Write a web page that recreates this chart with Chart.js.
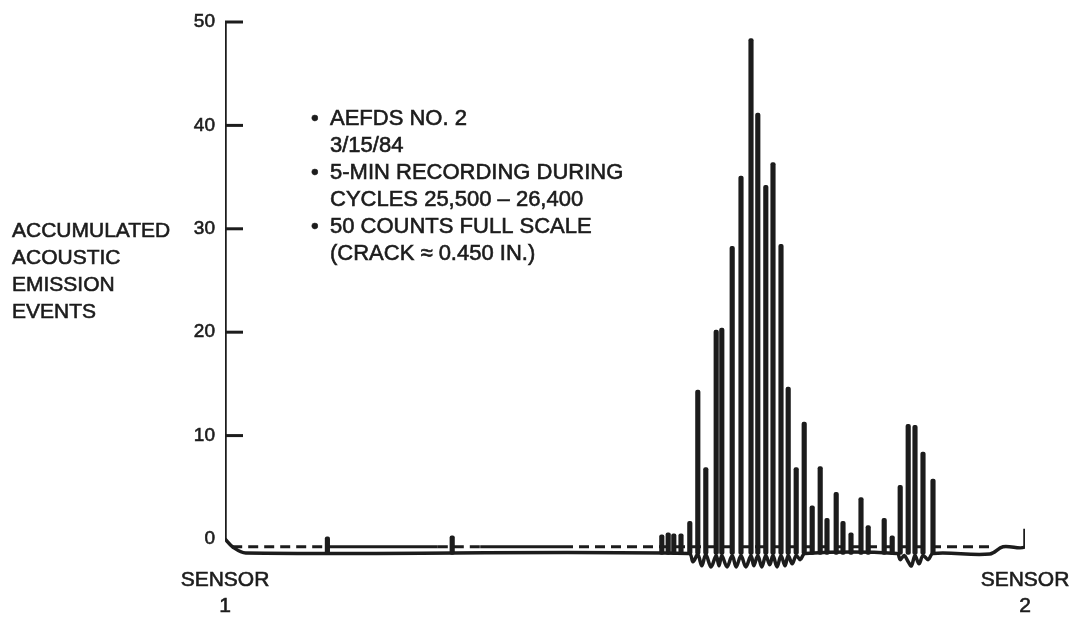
<!DOCTYPE html>
<html>
<head>
<meta charset="utf-8">
<script src="https://cdn.jsdelivr.net/npm/chart.js@4/dist/chart.umd.min.js"></script>
<style>
  body { margin: 0; background: #fff; }
  canvas { display: block; }
</style>
</head>
<body>
<canvas id="chart" width="1070" height="626"></canvas>
<script>
// position along the specimen, 0 = sensor 1, 100 = sensor 2
const xTicks = [0, 100];
const xTickLabels = [['SENSOR', '1'], ['SENSOR', '2']];
const yTicks = [0, 10, 20, 30, 40, 50];

// acoustic emission spikes (position, accumulated events)
const spikeX = [12.8, 28.4, 54.6, 55.4, 56.1, 57.0, 58.1, 59.1, 60.1, 61.4, 62.1, 63.4, 64.5, 65.75,
    66.6, 67.6, 68.5, 69.5, 70.4, 71.4, 72.4, 73.4, 74.4, 75.25, 76.4, 77.25, 78.25, 79.5, 80.4,
    82.4, 83.4, 84.4, 85.4, 86.25, 87.25, 88.5];
const spikeY = [0.2, 0.3, 0.4, 0.6, 0.5, 0.5, 1.7, 14.4, 6.9, 20.2, 20.4, 28.3, 35.1, 48.4,
    41.2, 34.2, 36.4, 28.5, 14.7, 6.9, 11.3, 3.2, 7.0, 2.0, 4.5, 1.7, 0.6, 4.0, 1.3,
    2.0, 0.3, 5.2, 11.1, 11.0, 8.4, 5.8];
const spikeBase = -1.5;

// dashed zero trace
const dashX = [0.9, 13, 26.6, 31.9, 42.25, 95.6];
const dashY = [-0.75, -0.75, -0.75, -0.75, -0.75, -0.75];
const solidSpans = [[13, 26.6], [31.9, 42.25]];

// lower solid trace with the loops under the spikes
const lowX = [0, 1.0, 2.6, 58.0, 58.5, 59.1, 59.6, 60.1, 60.75, 61.4, 61.75, 62.1, 62.75, 63.4, 63.9,
    64.5, 65.1, 65.75, 66.1, 66.6, 67.1, 67.6, 68.1, 68.5, 69.0, 69.5, 70.0, 70.4, 70.9, 71.4, 71.9,
    72.5, 84.0, 84.4, 84.9, 85.4, 85.8, 86.25, 86.75, 87.25, 87.9, 88.5, 95.6, 97.25, 100, 100];
const lowY = [0, -0.8, -1.35, -1.4, -2.2, -1.5, -2.6, -1.5, -2.7, -1.6, -2.6, -1.6, -2.7, -1.6, -2.7,
    -1.6, -2.7, -1.6, -2.6, -1.6, -2.7, -1.6, -2.5, -1.6, -2.7, -1.6, -2.6, -1.6, -2.4, -1.6, -2.0,
    -1.4, -1.4, -2.0, -1.6, -2.2, -2.6, -1.6, -2.4, -1.6, -2.0, -1.4, -1.45, -0.75, -0.75, 1.0];

const axisX = [0, 0];
const axisY = [0, 50];

const yTitle = ['ACCUMULATED', 'ACOUSTIC', 'EMISSION', 'EVENTS'];
const notes = [
    ['\u2022', 'AEFDS NO. 2'],
    ['', '3/15/84'],
    ['\u2022', '5-MIN RECORDING DURING'],
    ['', 'CYCLES 25,500 \u2013 26,400'],
    ['\u2022', '50 COUNTS FULL SCALE'],
    ['', '(CRACK \u2248 0.450 IN.)']
];

const INK = '#1c1c1c';
const FONT = '"Liberation Sans", Arial, Helvetica, sans-serif';

const toPoints = (xs, ys) => xs.map((x, i) => ({ x: x, y: ys[i] }));

// heavier print look for the hand-set labels
function inkText(c, text, x, y) {
    c.fillText(text, x, y);
    c.strokeText(text, x, y);
}

const decorPlugin = {
    id: 'decor',
    afterDatasetsDraw(chart) {
        const c = chart.ctx;
        const yScale = chart.scales.y;
        const x0 = chart.scales.x.getPixelForValue(0);
        c.save();
        // inside tick marks
        c.strokeStyle = INK;
        c.lineWidth = 3;
        yTicks.slice(1).forEach(v => {
            const py = yScale.getPixelForValue(v);
            c.beginPath();
            c.moveTo(x0, py);
            c.lineTo(x0 + 18, py);
            c.stroke();
        });
        // axis title
        c.fillStyle = INK;
        c.lineWidth = 0.6;
        c.textBaseline = 'middle';
        c.textAlign = 'left';
        c.font = '21px ' + FONT;
        yTitle.forEach((t, i) => inkText(c, t, 12, 231 + i * 27));
        // notes
        c.font = '22px ' + FONT;
        notes.forEach((n, i) => {
            const py = 119 + i * 27;
            if (n[0]) inkText(c, n[0], 311, py);
            inkText(c, n[1], 330, py);
        });
        c.restore();
    }
};

new Chart(document.getElementById('chart'), {
    data: {
        datasets: [
            {
                type: 'bar',
                data: spikeX.map((x, i) => ({ x: x, y: [spikeBase, spikeY[i]] })),
                backgroundColor: INK,
                barThickness: 4.5,
                borderRadius: 2,
                borderSkipped: false
            },
            {
                type: 'line',
                data: toPoints(dashX, dashY),
                borderColor: INK,
                borderWidth: 3,
                pointRadius: 0,
                segment: {
                    borderDash: ctx => solidSpans.some(s => ctx.p0.parsed.x >= s[0] && ctx.p1.parsed.x <= s[1]) ? [] : [10, 6]
                }
            },
            {
                type: 'line',
                data: toPoints(lowX, lowY),
                borderColor: INK,
                borderWidth: 3.5,
                tension: 0.35,
                pointRadius: 0
            },
            {
                type: 'line',
                data: toPoints(axisX, axisY),
                borderColor: INK,
                borderWidth: 3.5,
                pointRadius: 0
            }
        ]
    },
    options: {
        responsive: false,
        animation: false,
        layout: { padding: { left: 0, right: 45, top: 22, bottom: 0 } },
        plugins: { legend: { display: false }, tooltip: { enabled: false } },
        scales: {
            x: {
                type: 'linear',
                min: 0,
                max: 100,
                offset: false,
                grid: { display: false },
                border: { display: false },
                afterBuildTicks: s => { s.ticks = xTicks.map(v => ({ value: v })); },
                afterFit: s => { s.height = 56; s.paddingLeft = 0; s.paddingRight = 0; },
                ticks: {
                    autoSkip: false,
                    maxRotation: 0,
                    padding: -10,
                    color: INK,
                    textStrokeColor: INK,
                    textStrokeWidth: 0.6,
                    font: { family: FONT, size: 21, lineHeight: 1.2 },
                    callback: v => xTickLabels[xTicks.indexOf(v)]
                }
            },
            y: {
                type: 'linear',
                min: -3,
                max: 50,
                grid: { display: false },
                border: { display: false },
                afterBuildTicks: s => { s.ticks = yTicks.map(v => ({ value: v })); },
                afterFit: s => { s.width = 225; },
                ticks: {
                    padding: 2,
                    color: INK,
                    textStrokeColor: INK,
                    textStrokeWidth: 0.6,
                    font: { family: FONT, size: 19 }
                }
            }
        }
    },
    plugins: [decorPlugin]
});
</script>
</body>
</html>
